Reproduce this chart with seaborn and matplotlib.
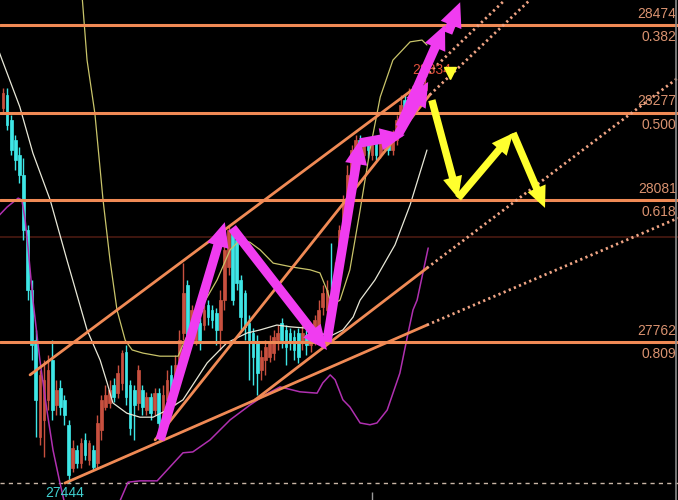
import numpy as np
import pandas as pd
import matplotlib
matplotlib.use("Agg")
import matplotlib.pyplot as plt
import seaborn as sns
from matplotlib.patches import FancyArrowPatch

# ---------------- data (bar index, price) ----------------
opens = [28287, 28317, 28260, 28216, 28182, 28137, 28013, 27879, 27766, 27548,
         27587, 27632, 27721, 27620, 27659, 27632, 27575, 27479, 27519, 27490,
         27542, 27497, 27519, 27490, 27564, 27616, 27625, 27665, 27647, 27670,
         27739, 27665, 27654, 27625, 27654, 27609, 27638, 27609, 27647, 27587,
         27632, 27688, 27643, 27703, 27782, 27890, 27796, 27766, 27805, 27800,
         27845, 27834, 27827, 27789, 27856, 27930, 28013, 27991, 27901, 27872,
         27805, 27782, 27760, 27699, 27721, 27728, 27737, 27766, 27805, 27789,
         27782, 27773, 27782, 27760, 27778, 27755, 27766, 27782, 27840, 27834,
         27856, 27856, 27912, 28002, 28070, 28126, 28171, 28216, 28182, 28211,
         28182, 28209, 28182, 28198, 28216, 28193, 28216, 28249, 28305, 28272,
         28305, 28332, 28305, 28328]
closes = [28321, 28249, 28193, 28171, 28137, 28013, 27879, 27755, 27632, 27688,
          27676, 27699, 27609, 27654, 27616, 27598, 27463, 27524, 27490, 27535,
          27508, 27535, 27481, 27580, 27632, 27643, 27654, 27638, 27692, 27737,
          27638, 27569, 27620, 27699, 27616, 27638, 27602, 27647, 27580, 27643,
          27676, 27643, 27710, 27766, 27872, 27766, 27834, 27811, 27766, 27834,
          27818, 27811, 27789, 27856, 27968, 28013, 27856, 27894, 27818, 27796,
          27766, 27728, 27692, 27728, 27751, 27760, 27773, 27782, 27766, 27751,
          27760, 27744, 27728, 27782, 27755, 27778, 27811, 27834, 27872, 27879,
          27778, 27924, 28013, 28081, 28137, 28193, 28216, 28182, 28204, 28193,
          28204, 28182, 28209, 28216, 28193, 28220, 28260, 28294, 28260, 28317,
          28328, 28305, 28339, 28344]
highs = [28332, 28332, 28272, 28227, 28200, 28175, 28025, 27901, 27789, 27699,
         27721, 27733, 27766, 27676, 27676, 27643, 27587, 27542, 27530, 27546,
         27558, 27542, 27530, 27598, 27643, 27665, 27676, 27681, 27710, 27744,
         27755, 27676, 27665, 27710, 27665, 27650, 27647, 27659, 27659, 27665,
         27699, 27710, 27733, 27789, 27939, 27901, 27845, 27829, 27816, 27845,
         27856, 27845, 27838, 27879, 27980, 28025, 28018, 28002, 27912, 27879,
         27822, 27793, 27778, 27744, 27766, 27778, 27789, 27800, 27816, 27800,
         27793, 27789, 27793, 27800, 27789, 27789, 27822, 27856, 27890, 27901,
         27984, 27942, 28025, 28092, 28159, 28204, 28227, 28227, 28220, 28220,
         28216, 28216, 28220, 28227, 28227, 28238, 28272, 28317, 28317, 28332,
         28339, 28350, 28350, 28355]
lows = [28278, 28238, 28182, 28148, 28119, 27991, 27856, 27721, 27548, 27530,
        27504, 27609, 27587, 27598, 27598, 27575, 27445, 27470, 27479, 27479,
        27497, 27486, 27474, 27479, 27542, 27609, 27614, 27627, 27636, 27654,
        27620, 27553, 27542, 27609, 27598, 27598, 27587, 27598, 27542, 27553,
        27609, 27632, 27620, 27688, 27766, 27744, 27782, 27755, 27744, 27789,
        27800, 27793, 27755, 27744, 27834, 27912, 27845, 27879, 27789, 27766,
        27676, 27665, 27643, 27676, 27688, 27717, 27721, 27744, 27748, 27710,
        27744, 27721, 27715, 27744, 27733, 27739, 27755, 27771, 27822, 27816,
        27766, 27845, 27901, 27991, 28058, 28103, 28159, 28171, 28171, 28175,
        28171, 28171, 28175, 28189, 28182, 28182, 28204, 28238, 28249, 28260,
        28294, 28294, 28294, 28317]

fib_prices = [28474, 28277, 28081, 27762]
fib_ratios = ["0.382", "0.500", "0.618", "0.809"]
faint_level = 27998
low_price = 27445
low_label = "27444"
high_label = "28334"

# Bollinger-type bands
upper_x = [18.8, 20.5, 22.4, 24.4, 26.1, 27.8, 29.8, 31.5, 34.1, 38.3, 42.7, 44.4, 48.0,
           52.2, 55.4, 57.8, 60.2, 62.7, 65.9, 70.7, 74.9, 77.3, 79.0, 80.2, 82.2, 84.6,
           87.1, 89.5, 92.0, 95.1, 99.3, 102.2, 103.4]
upper_y = [28597, 28395, 28276, 28081, 27946, 27834, 27766, 27744, 27737, 27730, 27730,
           27766, 27834, 27901, 27969, 27991, 27986, 27969, 27939, 27930, 27924, 27917,
           27879, 27845, 27856, 27924, 28058, 28193, 28312, 28395, 28436, 28440, 28429]
mid_x = [-2.0, -0.2, 4.1, 7.3, 11.5, 15.6, 20.5, 23.7, 25.4, 26.8, 30.2, 33.4, 36.6, 40.0,
         43.9, 49.8, 54.6, 59.5, 62.7, 66.8, 70.0, 74.1, 77.3, 79.8, 82.9, 85.4, 87.1,
         90.7, 95.6, 99.3, 103.4]
mid_y = [28440, 28395, 28290, 28186, 28081, 27946, 27789, 27721, 27670, 27625, 27602,
         27593, 27593, 27609, 27632, 27715, 27760, 27782, 27789, 27800, 27796, 27793,
         27782, 27775, 27789, 27818, 27856, 27901, 27980, 28070, 28193]
lower1_x = [-2.0, 1.0, 3.7, 4.6, 5.4, 6.1, 7.3, 9.0, 10.7, 12.2, 13.9, 15.4]
lower1_y = [28036, 28065, 28085, 28081, 28036, 27975, 27856, 27721, 27609, 27519, 27445, 27385]
lower2_x = [27.6, 30.5, 33.4, 37.6, 40.7, 43.9, 46.3, 50.5, 55.4, 60.2, 63.9, 67.6, 72.4,
            76.6, 78.0, 79.8, 81.0, 82.9, 84.6, 87.1, 89.5, 91.2, 93.7, 96.8, 98.8, 100.0,
            101.0, 103.7]
lower2_y = [27385, 27447, 27450, 27450, 27481, 27513, 27515, 27542, 27587, 27620, 27643,
            27661, 27650, 27647, 27670, 27688, 27677, 27632, 27616, 27580, 27576, 27580,
            27609, 27692, 27782, 27834, 27856, 27973]

# trend lines: solid parts and dotted extensions
solid_lines = [((6.6, 27688), (99.8, 28328)),
               ((37.1, 27542), (104.1, 28317)),
               ((61.5, 27632), (103.4, 27928)),
               ((15.1, 27445), (103.4, 27800))]
dotted_lines = [((100.0, 28332), (122.4, 28530)),
                ((104.1, 28317), (128.5, 28530)),
                ((103.4, 27928), (164.6, 28355)),
                ((103.4, 27800), (164.6, 28040))]

magenta_arrows = [((38.3, 27542), (54.1, 28031)),
                  ((55.9, 28018), (79.0, 27744)),
                  ((79.0, 27762), (87.1, 28216)),
                  ((87.1, 28209), (98.0, 28227)),
                  ((96.3, 28227), (103.7, 28346)),
                  ((96.8, 28245), (107.8, 28474)),
                  ((108.5, 28456), (111.5, 28525))]
yellow_arrows = [((104.6, 28305), (111.0, 28085)),
                 ((111.0, 28085), (124.4, 28231)),
                 ((124.4, 28231), (132.2, 28063))]
yellow_marker = (109.0, 28366)

# ---------------- style ----------------
sns.set_style("dark", rc={"axes.facecolor": "black", "figure.facecolor": "black"})
plt.rcParams["font.family"] = ["Liberation Sans", "DejaVu Sans"]

fig = plt.figure(figsize=(6.78, 5.0), dpi=100)
ax = fig.add_axes([0, 0, 1, 1])
ax.set_facecolor("black")
ax.set_xlim(-0.73, 164.63)
ax.set_ylim(27407, 28530)
ax.set_axis_off()

ORANGE = "#f08a55"
DOT = "#f0a585"
UP = "#c8503f"
DOWN = "#3ee6e6"

# faint level and low dashed line
ax.axhline(faint_level, color="#4a1a12", lw=1.2, zorder=1)
ax.axhline(low_price, color="#c9b6a6", lw=1.0, ls=(0, (3, 3)), zorder=1)

# candles
df = pd.DataFrame({"o": opens, "c": closes, "h": highs, "l": lows})
df["x"] = np.arange(len(df))
df["up"] = df["c"] >= df["o"]
cols = np.where(df["up"], UP, DOWN)
ax.vlines(df["x"], df["l"], df["h"], colors=cols, lw=1.0, zorder=3)
body = (df["c"] - df["o"]).abs().clip(lower=3)
ax.bar(df["x"], body, bottom=df[["o", "c"]].min(axis=1), width=0.65,
       color=cols, edgecolor=cols, lw=0.5, zorder=3)

# bands
sns.lineplot(x=upper_x, y=upper_y, ax=ax, color="#c9c46a", lw=0.9, sort=False,
             estimator=None, zorder=4)
sns.lineplot(x=mid_x, y=mid_y, ax=ax, color="#e8e8d8", lw=0.9, sort=False,
             estimator=None, zorder=4)
sns.lineplot(x=lower1_x, y=lower1_y, ax=ax, color="#b030b0", lw=1.1, sort=False,
             estimator=None, zorder=4)
sns.lineplot(x=lower2_x, y=lower2_y, ax=ax, color="#b030b0", lw=1.1, sort=False,
             estimator=None, zorder=4)

# fib levels
for p, r in zip(fib_prices, fib_ratios):
    ax.axhline(p, color=ORANGE, lw=2.2, zorder=5)
    ax.annotate(str(p), xy=(1.0, p), xycoords=("axes fraction", "data"),
                xytext=(-1, 3), textcoords="offset points", ha="right", va="bottom",
                color="#d99270", fontsize=10, zorder=6)
    ax.annotate(r, xy=(1.0, p), xycoords=("axes fraction", "data"),
                xytext=(-1, -4), textcoords="offset points", ha="right", va="top",
                color="#d99270", fontsize=10, zorder=6)

# trend lines
for (a, b) in solid_lines:
    ax.plot([a[0], b[0]], [a[1], b[1]], color=ORANGE, lw=2.0, zorder=5,
            solid_capstyle="round")
for (a, b) in dotted_lines:
    ax.plot([a[0], b[0]], [a[1], b[1]], color=DOT, lw=2.0, ls=(0, (0.8, 1.2)), zorder=5)

# arrows
for (a, b) in magenta_arrows:
    ax.add_patch(FancyArrowPatch(a, b, arrowstyle="simple,head_length=1.1,head_width=1.0,tail_width=0.42",
                                 mutation_scale=16, color="#f03cf0", lw=0, zorder=7,
                                 shrinkA=0, shrinkB=0))
for (a, b) in yellow_arrows:
    ax.add_patch(FancyArrowPatch(a, b, arrowstyle="simple,head_length=1.1,head_width=1.0,tail_width=0.38",
                                 mutation_scale=14, color="#ffff2e", lw=0, zorder=7,
                                 shrinkA=0, shrinkB=0))
ax.plot([yellow_marker[0]], [yellow_marker[1]], marker="v", color="#ffff2e", ms=8, zorder=7)

# labels for extremes
ax.text(99.8, 28373, high_label, color="#e0503c", fontsize=10, ha="left", va="center", zorder=6)
ax.text(15.1, 27423, low_label, color="#40d0d0", fontsize=10, ha="center", va="center", zorder=8)

# right border and small tick
ax.axvline(164.1, color="#8a8a8a", lw=1.2, zorder=9)
ax.vlines([90.0], 27407, 27425, color="#9a9a9a", lw=1.0, zorder=9)

fig.savefig("out.png", dpi=100, facecolor="black")
